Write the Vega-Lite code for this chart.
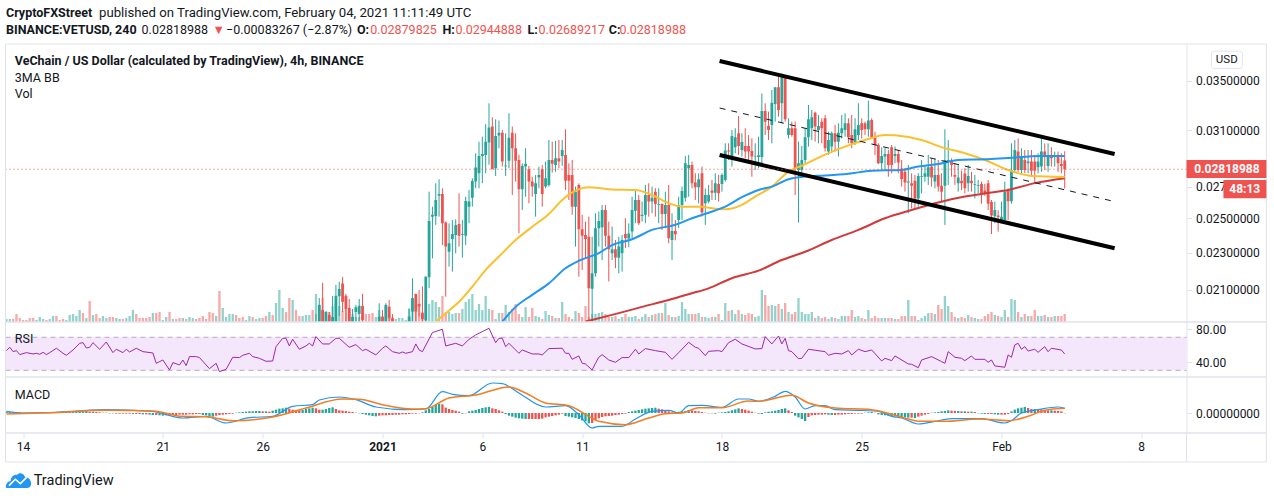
{"$schema":"https://vega.github.io/schema/vega-lite/v6.json","padding":{"left":2.5,"top":0,"right":0,"bottom":0},"bounds":"flush","spacing":0,"background":"white",
"config":{"font":"Roboto","view":{"stroke":null},"axis":{"grid":false,"title":null,"domainColor":"#e0e3eb","tickColor":"#e0e3eb","tickSize":5,"labelColor":"#131722","labelFontSize":12,"labelPadding":4},"text":{"color":"#131722","align":"left","fontSize":12.5}},
"datasets":{"single":[{"row":1}],
"bars":[
{"n":-5,"dir":"u","vol":3,"hist":0.00004},{"n":-4,"dir":"u","vol":3,"hist":0.00003},{"n":-3,"dir":"d","vol":3,"hist":0.00003},{"n":-2,"dir":"d","vol":8,"hist":0.00002},{"n":-1,"dir":"d","vol":4,"hist":0.00002},{"n":0,"dir":"d","vol":2,"hist":0.00001},{"n":1,"dir":"d","vol":2,"hist":0.00001},{"n":2,"dir":"d","vol":4,"hist":0.00001},{"n":3,"dir":"d","vol":4,"hist":0.00001},{"n":4,"dir":"u","vol":2,"hist":0.00001},{"n":5,"dir":"u","vol":5,"hist":0.00001},{"n":6,"dir":"u","vol":3,"hist":0.00001},{"n":7,"dir":"d","vol":2,"hist":0.00002},{"n":8,"dir":"u","vol":3,"hist":0.00002},{"n":9,"dir":"u","vol":6,"hist":0.00002},{"n":10,"dir":"d","vol":6,"hist":0.00002},{"n":11,"dir":"d","vol":2,"hist":0.00003},{"n":12,"dir":"d","vol":3,"hist":0.00003},{"n":13,"dir":"u","vol":2,"hist":0.00003},{"n":14,"dir":"u","vol":7,"hist":0.00003},{"n":15,"dir":"u","vol":8,"hist":0.00004},{"n":16,"dir":"u","vol":6,"hist":0.00004},{"n":17,"dir":"u","vol":12,"hist":0.00005},{"n":18,"dir":"d","vol":9,"hist":0.00005},{"n":19,"dir":"u","vol":4,"hist":0.00006},{"n":20,"dir":"d","vol":21,"hist":0.00004},{"n":21,"dir":"u","vol":7,"hist":0.00004},{"n":22,"dir":"d","vol":8,"hist":0.00003},{"n":23,"dir":"d","vol":4,"hist":0.00002},{"n":24,"dir":"u","vol":6,"hist":0.00001},{"n":25,"dir":"u","vol":4,"hist":0.00001},{"n":26,"dir":"d","vol":5,"hist":-0.00001},{"n":27,"dir":"d","vol":5,"hist":-0.00001},{"n":28,"dir":"u","vol":4,"hist":-0.00002},{"n":29,"dir":"u","vol":3,"hist":-0.00002},{"n":30,"dir":"d","vol":3,"hist":-0.00002},{"n":31,"dir":"u","vol":4,"hist":-0.00002},{"n":32,"dir":"u","vol":6,"hist":-0.00002},{"n":33,"dir":"u","vol":12,"hist":-0.00003},{"n":34,"dir":"d","vol":8,"hist":-0.00003},{"n":35,"dir":"d","vol":4,"hist":-0.00003},{"n":36,"dir":"d","vol":4,"hist":-0.00004},{"n":37,"dir":"d","vol":4,"hist":-0.00004},{"n":38,"dir":"d","vol":5,"hist":-0.00005},{"n":39,"dir":"u","vol":9,"hist":-0.00006},{"n":40,"dir":"d","vol":9,"hist":-0.00006},{"n":41,"dir":"d","vol":10,"hist":-0.00007},{"n":42,"dir":"u","vol":2,"hist":-0.00008},{"n":43,"dir":"u","vol":5,"hist":-0.00007},{"n":44,"dir":"d","vol":10,"hist":-0.00007},{"n":45,"dir":"u","vol":3,"hist":-0.00006},{"n":46,"dir":"d","vol":3,"hist":-0.00006},{"n":47,"dir":"d","vol":4,"hist":-0.00005},{"n":48,"dir":"u","vol":4,"hist":-0.00005},{"n":49,"dir":"d","vol":3,"hist":-0.00005},{"n":50,"dir":"u","vol":5,"hist":-0.00004},{"n":51,"dir":"u","vol":4,"hist":-0.00004},{"n":52,"dir":"d","vol":3,"hist":-0.00003},{"n":53,"dir":"d","vol":4,"hist":-0.00003},{"n":54,"dir":"d","vol":6,"hist":-0.00006},{"n":55,"dir":"d","vol":3,"hist":-0.00007},{"n":56,"dir":"d","vol":10,"hist":-0.00009},{"n":57,"dir":"d","vol":9,"hist":-0.00011},{"n":58,"dir":"u","vol":6,"hist":-0.00008},{"n":59,"dir":"d","vol":31,"hist":-0.00006},{"n":60,"dir":"u","vol":14,"hist":-0.00005},{"n":61,"dir":"u","vol":5,"hist":-0.00004},{"n":62,"dir":"u","vol":8,"hist":-0.00003},{"n":63,"dir":"u","vol":8,"hist":-0.00002},{"n":64,"dir":"d","vol":7,"hist":0.00001},{"n":65,"dir":"d","vol":4,"hist":0.00002},{"n":66,"dir":"d","vol":5,"hist":0.00003},{"n":67,"dir":"u","vol":2,"hist":0.00004},{"n":68,"dir":"u","vol":6,"hist":0.00005},{"n":69,"dir":"d","vol":5,"hist":0.00005},{"n":70,"dir":"u","vol":3,"hist":0.00006},{"n":71,"dir":"u","vol":4,"hist":0.00006},{"n":72,"dir":"d","vol":4,"hist":0.00005},{"n":73,"dir":"d","vol":6,"hist":0.00005},{"n":74,"dir":"u","vol":10,"hist":0.00004},{"n":75,"dir":"d","vol":7,"hist":0.00007},{"n":76,"dir":"u","vol":19,"hist":0.0001},{"n":77,"dir":"u","vol":32,"hist":0.00013},{"n":78,"dir":"u","vol":14,"hist":0.00014},{"n":79,"dir":"d","vol":10,"hist":0.00016},{"n":80,"dir":"d","vol":24,"hist":0.00013},{"n":81,"dir":"u","vol":22,"hist":0.0001},{"n":82,"dir":"d","vol":12,"hist":0.00009},{"n":83,"dir":"d","vol":6,"hist":0.00008},{"n":84,"dir":"u","vol":6,"hist":0.00009},{"n":85,"dir":"u","vol":7,"hist":0.00012},{"n":86,"dir":"u","vol":7,"hist":0.00014},{"n":87,"dir":"d","vol":12,"hist":0.00016},
{"n":88,"dir":"u","vol":28,"hist":0.00014,"o":0.0192,"h":0.0198,"l":0.019,"c":0.0194},{"n":89,"dir":"u","vol":16,"hist":0.0001,"o":0.0192,"h":0.02059,"l":0.019,"c":0.02025},{"n":90,"dir":"d","vol":24,"hist":0.0001,"o":0.02,"h":0.02137,"l":0.019,"c":0.0192},{"n":91,"dir":"u","vol":11,"hist":0.00012,"o":0.0192,"h":0.0199,"l":0.019,"c":0.0199},{"n":92,"dir":"d","vol":10,"hist":0.00015,"o":0.01976,"h":0.0199,"l":0.019,"c":0.0192},{"n":93,"dir":"u","vol":16,"hist":0.00017,"o":0.0192,"h":0.0207,"l":0.019,"c":0.01966},{"n":94,"dir":"u","vol":20,"hist":0.00012,"o":0.0192,"h":0.02126,"l":0.019,"c":0.0207},{"n":95,"dir":"u","vol":16,"hist":0.00008,"o":0.02068,"h":0.02142,"l":0.0197,"c":0.02105},{"n":96,"dir":"d","vol":11,"hist":0.00007,"o":0.02133,"h":0.02168,"l":0.0199,"c":0.0204},{"n":97,"dir":"d","vol":13,"hist":0.00006,"o":0.0207,"h":0.0208,"l":0.019,"c":0.02005},{"n":98,"dir":"d","vol":14,"hist":0.00004,"o":0.0201,"h":0.02054,"l":0.019,"c":0.0192},{"n":99,"dir":"u","vol":8,"hist":0.00003,"o":0.0192,"h":0.02005,"l":0.019,"c":0.01966},{"n":100,"dir":"u","vol":5,"hist":0.00001,"o":0.0199,"h":0.02025,"l":0.019,"c":0.02013},{"n":101,"dir":"u","vol":5,"hist":-0.00001,"o":0.0198,"h":0.02054,"l":0.019,"c":0.0202},
{"n":102,"dir":"d","vol":5,"hist":-0.00003,"o":0.0202,"h":0.0208,"l":0.01944,"c":0.01952},{"n":103,"dir":"d","vol":8,"hist":-0.00005},{"n":104,"dir":"d","vol":8,"hist":-0.00007},{"n":105,"dir":"d","vol":9,"hist":-0.00009},{"n":106,"dir":"u","vol":5,"hist":-0.0001},
{"n":107,"dir":"u","vol":12,"hist":-0.00008,"o":0.0194,"h":0.02033,"l":0.0192,"c":0.01968},{"n":108,"dir":"d","vol":5,"hist":-0.00007,"o":0.01968,"h":0.02,"l":0.0192,"c":0.0194},{"n":109,"dir":"u","vol":15,"hist":-0.00007,"o":0.0194,"h":0.02033,"l":0.0192,"c":0.02025},{"n":110,"dir":"d","vol":10,"hist":-0.00006,"o":0.02016,"h":0.02049,"l":0.0194,"c":0.0196},{"n":111,"dir":"d","vol":5,"hist":-0.00006,"o":0.0196,"h":0.0198,"l":0.0192,"c":0.0194},
{"n":112,"dir":"u","vol":3,"hist":-0.00005},{"n":113,"dir":"u","vol":4,"hist":-0.00005},{"n":114,"dir":"u","vol":4,"hist":-0.00004},{"n":115,"dir":"u","vol":2,"hist":-0.00004},
{"n":116,"dir":"u","vol":13,"hist":-0.00003,"o":0.0194,"h":0.02008,"l":0.0192,"c":0.01968},{"n":117,"dir":"u","vol":24,"hist":-0.00002,"o":0.01992,"h":0.0216,"l":0.0192,"c":0.02058},{"n":118,"dir":"d","vol":18,"hist":-0.00002,"o":0.0208,"h":0.0208,"l":0.0192,"c":0.01992},{"n":119,"dir":"d","vol":15,"hist":-0.00001,"o":0.0203,"h":0.021,"l":0.01968,"c":0.02016},{"n":120,"dir":"d","vol":8,"hist":0.00002,"o":0.01987,"h":0.02118,"l":0.0192,"c":0.01955},{"n":121,"dir":"u","vol":22,"hist":0.00008,"o":0.0195,"h":0.0217,"l":0.0192,"c":0.02169},{"n":122,"dir":"u","vol":18,"hist":0.00012,"o":0.02166,"h":0.02669,"l":0.02109,"c":0.02485},{"n":123,"dir":"u","vol":22,"hist":0.00018,"o":0.02511,"h":0.02573,"l":0.02268,"c":0.02522},{"n":124,"dir":"u","vol":20,"hist":0.00024,"o":0.02515,"h":0.02724,"l":0.02461,"c":0.02615},{"n":125,"dir":"u","vol":15,"hist":0.00028,"o":0.02643,"h":0.0275,"l":0.02511,"c":0.02654},{"n":126,"dir":"d","vol":26,"hist":0.00026,"o":0.02654,"h":0.02691,"l":0.02343,"c":0.02471},{"n":127,"dir":"d","vol":10,"hist":0.00016,"o":0.02475,"h":0.02482,"l":0.02066,"c":0.02334},{"n":128,"dir":"u","vol":10,"hist":0.00012,"o":0.02305,"h":0.0247,"l":0.02223,"c":0.02353},{"n":129,"dir":"u","vol":8,"hist":0.00009,"o":0.02378,"h":0.02491,"l":0.02196,"c":0.02407},{"n":130,"dir":"u","vol":9,"hist":0.00007,"o":0.02401,"h":0.02495,"l":0.02296,"c":0.02461},{"n":131,"dir":"d","vol":9,"hist":0.00004,"o":0.02467,"h":0.02658,"l":0.02334,"c":0.02397},{"n":132,"dir":"u","vol":13,"hist":-0.00002,"o":0.02401,"h":0.02491,"l":0.02272,"c":0.02405},{"n":133,"dir":"u","vol":20,"hist":-0.00001,"o":0.02397,"h":0.02636,"l":0.02343,"c":0.02609},{"n":134,"dir":"u","vol":23,"hist":0.00005,"o":0.02573,"h":0.0268,"l":0.02471,"c":0.02605},{"n":135,"dir":"u","vol":28,"hist":0.00007,"o":0.0263,"h":0.02757,"l":0.02573,"c":0.02739},{"n":136,"dir":"u","vol":12,"hist":0.00009,"o":0.02735,"h":0.02931,"l":0.02691,"c":0.0283},{"n":137,"dir":"u","vol":18,"hist":0.00012,"o":0.02791,"h":0.03015,"l":0.02691,"c":0.02912},{"n":138,"dir":"u","vol":12,"hist":0.00015,"o":0.02912,"h":0.03052,"l":0.02724,"c":0.02926},{"n":139,"dir":"u","vol":26,"hist":0.00017,"o":0.02919,"h":0.03146,"l":0.02791,"c":0.03015},{"n":140,"dir":"u","vol":13,"hist":0.00018,"o":0.03009,"h":0.03311,"l":0.0285,"c":0.03121},{"n":141,"dir":"d","vol":12,"hist":0.00014,"o":0.03128,"h":0.032,"l":0.02819,"c":0.02819},{"n":142,"dir":"u","vol":3,"hist":0.00012,"o":0.02826,"h":0.03184,"l":0.02773,"c":0.03057},{"n":143,"dir":"u","vol":9,"hist":0.00008,"o":0.0306,"h":0.03174,"l":0.02967,"c":0.03082},{"n":144,"dir":"d","vol":9,"hist":0.00004,"o":0.03082,"h":0.03102,"l":0.02837,"c":0.02872},{"n":145,"dir":"u","vol":17,"hist":-0.00003,"o":0.02839,"h":0.03077,"l":0.02773,"c":0.02844},{"n":146,"dir":"u","vol":10,"hist":-0.00008,"o":0.02878,"h":0.03231,"l":0.02826,"c":0.03044},{"n":147,"dir":"d","vol":13,"hist":-0.00011,"o":0.03082,"h":0.03128,"l":0.02647,"c":0.02967},{"n":148,"dir":"d","vol":18,"hist":-0.00014,"o":0.02967,"h":0.03077,"l":0.02735,"c":0.02878},{"n":149,"dir":"d","vol":8,"hist":-0.00016,"o":0.02883,"h":0.0292,"l":0.02411,"c":0.02684},{"n":150,"dir":"u","vol":5,"hist":-0.00017,"o":0.02684,"h":0.0286,"l":0.02552,"c":0.02842},{"n":151,"dir":"u","vol":15,"hist":-0.00018,"o":0.02837,"h":0.02967,"l":0.02636,"c":0.02856},{"n":152,"dir":"d","vol":5,"hist":-0.00018,"o":0.02819,"h":0.02842,"l":0.02594,"c":0.02735},{"n":153,"dir":"d","vol":14,"hist":-0.00018,"o":0.02735,"h":0.02768,"l":0.02636,"c":0.02702},{"n":154,"dir":"u","vol":6,"hist":-0.00018,"o":0.02654,"h":0.02779,"l":0.02511,"c":0.02724},{"n":155,"dir":"u","vol":5,"hist":-0.00018,"o":0.02762,"h":0.02837,"l":0.02691,"c":0.02779},{"n":156,"dir":"d","vol":3,"hist":-0.00017,"o":0.02819,"h":0.02848,"l":0.02573,"c":0.02654},{"n":157,"dir":"u","vol":11,"hist":-0.00013,"o":0.02702,"h":0.02872,"l":0.02691,"c":0.02757},{"n":158,"dir":"u","vol":7,"hist":-0.00011,"o":0.02713,"h":0.03027,"l":0.02702,"c":0.02883},{"n":159,"dir":"d","vol":6,"hist":-0.00009,"o":0.02883,"h":0.03015,"l":0.02796,"c":0.02856},{"n":160,"dir":"u","vol":4,"hist":-0.00007,"o":0.02848,"h":0.03021,"l":0.02802,"c":0.02895},{"n":161,"dir":"d","vol":4,"hist":-0.00005,"o":0.02895,"h":0.03027,"l":0.02826,"c":0.02872},{"n":162,"dir":"u","vol":20,"hist":-0.00002,"o":0.02912,"h":0.03027,"l":0.02842,"c":0.02955},{"n":163,"dir":"d","vol":8,"hist":-0.00009,"o":0.02919,"h":0.03107,"l":0.0268,"c":0.02741},{"n":164,"dir":"d","vol":5,"hist":-0.00011,"o":0.02779,"h":0.0286,"l":0.02615,"c":0.02741},{"n":165,"dir":"d","vol":3,"hist":-0.00013,"o":0.02779,"h":0.02883,"l":0.02522,"c":0.02573},{"n":166,"dir":"u","vol":11,"hist":-0.00015,"o":0.02573,"h":0.02702,"l":0.02334,"c":0.02669},{"n":167,"dir":"d","vol":9,"hist":-0.00018,"o":0.02713,"h":0.02724,"l":0.02169,"c":0.02435},{"n":168,"dir":"d","vol":5,"hist":-0.00022,"o":0.02435,"h":0.02522,"l":0.02205,"c":0.02397},{"n":169,"dir":"d","vol":16,"hist":-0.00025,"o":0.02401,"h":0.02481,"l":0.02268,"c":0.02378},{"n":170,"dir":"d","vol":5,"hist":-0.00031,"o":0.02391,"h":0.02511,"l":0.0192,"c":0.02109},{"n":171,"dir":"u","vol":8,"hist":-0.0003,"o":0.02106,"h":0.02391,"l":0.0192,"c":0.02187},{"n":172,"dir":"u","vol":8,"hist":-0.00022,"o":0.02187,"h":0.02532,"l":0.02169,"c":0.02441},{"n":173,"dir":"u","vol":9,"hist":-0.00016,"o":0.02441,"h":0.02542,"l":0.02334,"c":0.02485},{"n":174,"dir":"u","vol":10,"hist":-0.00012,"o":0.02447,"h":0.02583,"l":0.02259,"c":0.02552},{"n":175,"dir":"d","vol":8,"hist":-0.0001,"o":0.02552,"h":0.02583,"l":0.02334,"c":0.02397},{"n":176,"dir":"d","vol":5,"hist":-0.00009,"o":0.02397,"h":0.02481,"l":0.02144,"c":0.02319},{"n":177,"dir":"u","vol":5,"hist":-0.00008,"o":0.02296,"h":0.02451,"l":0.02259,"c":0.02319},{"n":178,"dir":"d","vol":6,"hist":-0.00006,"o":0.02319,"h":0.02372,"l":0.02214,"c":0.02272},{"n":179,"dir":"u","vol":3,"hist":-0.00005,"o":0.02272,"h":0.02391,"l":0.02187,"c":0.02334},{"n":180,"dir":"u","vol":5,"hist":-0.00003,"o":0.02296,"h":0.02401,"l":0.02196,"c":0.02372},{"n":181,"dir":"d","vol":8,"hist":-0.00002,"o":0.02407,"h":0.02501,"l":0.02325,"c":0.02382},{"n":182,"dir":"u","vol":5,"hist":0.00003,"o":0.0238,"h":0.0247,"l":0.0233,"c":0.0241},{"n":183,"dir":"u","vol":5,"hist":0.00005,"o":0.02421,"h":0.02636,"l":0.02382,"c":0.02552},{"n":184,"dir":"u","vol":6,"hist":0.00007,"o":0.02548,"h":0.0268,"l":0.02471,"c":0.02615},{"n":185,"dir":"d","vol":3,"hist":0.00009,"o":0.02615,"h":0.02647,"l":0.02461,"c":0.02471},{"n":186,"dir":"u","vol":5,"hist":0.00011,"o":0.02515,"h":0.02605,"l":0.02481,"c":0.02522},{"n":187,"dir":"u","vol":8,"hist":0.00013,"o":0.02522,"h":0.02713,"l":0.02471,"c":0.02647},{"n":188,"dir":"d","vol":5,"hist":0.00014,"o":0.02647,"h":0.02724,"l":0.02511,"c":0.02605},{"n":189,"dir":"u","vol":7,"hist":0.00015,"o":0.02605,"h":0.02702,"l":0.02532,"c":0.0263},{"n":190,"dir":"d","vol":8,"hist":0.00016,"o":0.02669,"h":0.02691,"l":0.02511,"c":0.02589},{"n":191,"dir":"u","vol":9,"hist":0.00013,"o":0.02585,"h":0.02691,"l":0.02471,"c":0.0259},{"n":192,"dir":"d","vol":9,"hist":0.00011,"o":0.02589,"h":0.02594,"l":0.02431,"c":0.02528},{"n":193,"dir":"u","vol":19,"hist":0.00008,"o":0.02528,"h":0.02669,"l":0.02441,"c":0.02583},{"n":194,"dir":"d","vol":7,"hist":0.00005,"o":0.02583,"h":0.02713,"l":0.02353,"c":0.02382},{"n":195,"dir":"u","vol":5,"hist":0.00002,"o":0.02372,"h":0.02532,"l":0.02259,"c":0.02425},{"n":196,"dir":"d","vol":5,"hist":0.00003,"o":0.02425,"h":0.0249,"l":0.0237,"c":0.02405},{"n":197,"dir":"u","vol":6,"hist":0.00004,"o":0.02491,"h":0.02636,"l":0.02441,"c":0.02583},{"n":198,"dir":"u","vol":20,"hist":0.00005,"o":0.02583,"h":0.02702,"l":0.02491,"c":0.02673},{"n":199,"dir":"u","vol":13,"hist":0.00006,"o":0.0263,"h":0.02912,"l":0.02605,"c":0.0286},{"n":200,"dir":"u","vol":8,"hist":0.00009,"o":0.02826,"h":0.02919,"l":0.02636,"c":0.02848},{"n":201,"dir":"d","vol":8,"hist":0.00008,"o":0.02848,"h":0.02872,"l":0.02691,"c":0.02724},{"n":202,"dir":"d","vol":8,"hist":0.00006,"o":0.02729,"h":0.02791,"l":0.02615,"c":0.02698},{"n":203,"dir":"u","vol":9,"hist":0.00005,"o":0.02698,"h":0.02791,"l":0.02594,"c":0.02751},{"n":204,"dir":"d","vol":5,"hist":0.00003,"o":0.02791,"h":0.02837,"l":0.02511,"c":0.02536},{"n":205,"dir":"u","vol":5,"hist":0.00001,"o":0.02594,"h":0.0269,"l":0.02461,"c":0.02647},{"n":206,"dir":"u","vol":4,"hist":-0.00001,"o":0.02605,"h":0.02713,"l":0.02594,"c":0.02647},
{"n":207,"dir":"d","vol":5,"hist":-0.00001,"o":0.02676,"h":0.02746,"l":0.02615,"c":0.02662},{"n":208,"dir":"u","vol":5,"hist":-0.00002,"o":0.02662,"h":0.02791,"l":0.02615,"c":0.02724},{"n":209,"dir":"d","vol":8,"hist":0.00001,"o":0.0272,"h":0.0278,"l":0.02605,"c":0.02658},{"n":210,"dir":"u","vol":2,"hist":0.00002,"o":0.0272,"h":0.02791,"l":0.02669,"c":0.0278},{"n":211,"dir":"u","vol":19,"hist":0.00003,"o":0.02746,"h":0.03003,"l":0.02735,"c":0.0295},{"n":212,"dir":"d","vol":11,"hist":0.00005,"o":0.0295,"h":0.03003,"l":0.02883,"c":0.02943},{"n":213,"dir":"u","vol":12,"hist":0.00008,"o":0.02895,"h":0.03102,"l":0.02837,"c":0.03057},{"n":214,"dir":"u","vol":8,"hist":0.00011,"o":0.02974,"h":0.03115,"l":0.02931,"c":0.03047},{"n":215,"dir":"d","vol":12,"hist":0.00014,"o":0.03077,"h":0.0321,"l":0.02919,"c":0.02984},{"n":216,"dir":"u","vol":8,"hist":0.00012,"o":0.02955,"h":0.03077,"l":0.02907,"c":0.03012},{"n":217,"dir":"d","vol":7,"hist":0.0001,"o":0.02984,"h":0.03115,"l":0.02895,"c":0.02943},{"n":218,"dir":"d","vol":9,"hist":0.00007,"o":0.02984,"h":0.03064,"l":0.0286,"c":0.02943},{"n":219,"dir":"d","vol":8,"hist":0.00004,"o":0.02948,"h":0.03039,"l":0.02768,"c":0.02907},{"n":220,"dir":"u","vol":5,"hist":0.00001,"o":0.02905,"h":0.03003,"l":0.02814,"c":0.02907},{"n":221,"dir":"u","vol":6,"hist":-0.00002,"o":0.02905,"h":0.03052,"l":0.02826,"c":0.02917},{"n":222,"dir":"u","vol":32,"hist":-0.00003,"o":0.02905,"h":0.03392,"l":0.0286,"c":0.03249},{"n":223,"dir":"d","vol":27,"hist":0.00002,"o":0.03249,"h":0.03311,"l":0.03064,"c":0.03166},{"n":224,"dir":"d","vol":16,"hist":0.00004,"o":0.03135,"h":0.03244,"l":0.03027,"c":0.03102},{"n":225,"dir":"u","vol":17,"hist":0.00005,"o":0.03141,"h":0.0342,"l":0.03003,"c":0.03316},{"n":226,"dir":"u","vol":16,"hist":0.00007,"o":0.03305,"h":0.03443,"l":0.03166,"c":0.03443},{"n":227,"dir":"d","vol":18,"hist":0.00009,"o":0.03443,"h":0.03539,"l":0.03205,"c":0.03257},{"n":228,"dir":"u","vol":13,"hist":0.00012,"o":0.03311,"h":0.03561,"l":0.03153,"c":0.03539},{"n":229,"dir":"d","vol":19,"hist":0.00014,"o":0.03525,"h":0.03539,"l":0.03166,"c":0.03184},{"n":230,"dir":"u","vol":10,"hist":0.00008,"o":0.03064,"h":0.03192,"l":0.03039,"c":0.03115},{"n":231,"dir":"d","vol":8,"hist":0.00003,"o":0.03115,"h":0.03166,"l":0.03052,"c":0.03064},{"n":232,"dir":"d","vol":10,"hist":-0.00008,"o":0.03115,"h":0.03166,"l":0.02647,"c":0.02826},{"n":233,"dir":"u","vol":24,"hist":-0.00013,"o":0.02814,"h":0.03015,"l":0.02475,"c":0.0286},{"n":234,"dir":"u","vol":10,"hist":-0.00018,"o":0.02814,"h":0.02984,"l":0.0278,"c":0.02883},{"n":235,"dir":"u","vol":8,"hist":-0.00024,"o":0.02883,"h":0.03115,"l":0.0286,"c":0.03047},{"n":236,"dir":"u","vol":8,"hist":-0.00012,"o":0.03047,"h":0.03298,"l":0.02979,"c":0.03184},{"n":237,"dir":"u","vol":10,"hist":-0.00007,"o":0.03115,"h":0.03257,"l":0.03027,"c":0.032},{"n":238,"dir":"d","vol":4,"hist":-0.00006,"o":0.03236,"h":0.03244,"l":0.03015,"c":0.03128},{"n":239,"dir":"u","vol":6,"hist":-0.00005,"o":0.03102,"h":0.03218,"l":0.03003,"c":0.03133},{"n":240,"dir":"d","vol":4,"hist":-0.00005,"o":0.03166,"h":0.03192,"l":0.03003,"c":0.03115},{"n":241,"dir":"d","vol":5,"hist":-0.00004,"o":0.03192,"h":0.03218,"l":0.02943,"c":0.02967},{"n":242,"dir":"u","vol":3,"hist":-0.00005,"o":0.02943,"h":0.0309,"l":0.02919,"c":0.03027},{"n":243,"dir":"u","vol":5,"hist":-0.00006,"o":0.02979,"h":0.0309,"l":0.02943,"c":0.03077},{"n":244,"dir":"d","vol":4,"hist":-0.00006,"o":0.03077,"h":0.03141,"l":0.02943,"c":0.03015},{"n":245,"dir":"u","vol":3,"hist":-0.00005,"o":0.03015,"h":0.03153,"l":0.02907,"c":0.03082},{"n":246,"dir":"u","vol":6,"hist":-0.00005,"o":0.03077,"h":0.03218,"l":0.03039,"c":0.03115},{"n":247,"dir":"u","vol":6,"hist":-0.00004,"o":0.03102,"h":0.03231,"l":0.03052,"c":0.03153},{"n":248,"dir":"d","vol":6,"hist":-0.00003,"o":0.03153,"h":0.03192,"l":0.03003,"c":0.03047},{"n":249,"dir":"d","vol":12,"hist":-0.00003,"o":0.03064,"h":0.03218,"l":0.02967,"c":0.03003},{"n":250,"dir":"u","vol":5,"hist":-0.00002,"o":0.03003,"h":0.03192,"l":0.02991,"c":0.03107},{"n":251,"dir":"u","vol":6,"hist":-0.00002,"o":0.03064,"h":0.03311,"l":0.03027,"c":0.03141},{"n":252,"dir":"d","vol":4,"hist":-0.00002,"o":0.03153,"h":0.03192,"l":0.03039,"c":0.03102},{"n":253,"dir":"d","vol":3,"hist":0.00001,"o":0.03153,"h":0.03166,"l":0.03064,"c":0.03107},{"n":254,"dir":"u","vol":12,"hist":0.00002,"o":0.03107,"h":0.03332,"l":0.03052,"c":0.03174},{"n":255,"dir":"d","vol":4,"hist":0.00003,"o":0.03179,"h":0.03192,"l":0.03039,"c":0.03039},{"n":256,"dir":"d","vol":6,"hist":0.00001,"o":0.03047,"h":0.0309,"l":0.02919,"c":0.02991},{"n":257,"dir":"d","vol":4,"hist":-0.00004,"o":0.02991,"h":0.03003,"l":0.02855,"c":0.0286},{"n":258,"dir":"u","vol":4,"hist":-0.00006,"o":0.0286,"h":0.02974,"l":0.02814,"c":0.02912},{"n":259,"dir":"u","vol":4,"hist":-0.00007,"o":0.02907,"h":0.0297,"l":0.02814,"c":0.02926},{"n":260,"dir":"d","vol":4,"hist":-0.00008,"o":0.02926,"h":0.02955,"l":0.02768,"c":0.02848},{"n":261,"dir":"d","vol":4,"hist":-0.00009,"o":0.02974,"h":0.02991,"l":0.02791,"c":0.02848},{"n":262,"dir":"u","vol":3,"hist":-0.0001,"o":0.02912,"h":0.02979,"l":0.0286,"c":0.02926},{"n":263,"dir":"d","vol":3,"hist":-0.00011,"o":0.02926,"h":0.02955,"l":0.02791,"c":0.02865},{"n":264,"dir":"d","vol":6,"hist":-0.00012,"o":0.02824,"h":0.02883,"l":0.02702,"c":0.02752},{"n":265,"dir":"d","vol":6,"hist":-0.00013,"o":0.02801,"h":0.02826,"l":0.02669,"c":0.02729},{"n":266,"dir":"u","vol":22,"hist":-0.00014,"o":0.02729,"h":0.02848,"l":0.02532,"c":0.02735},{"n":267,"dir":"d","vol":6,"hist":-0.00014,"o":0.02724,"h":0.02791,"l":0.02562,"c":0.02707},{"n":268,"dir":"d","vol":6,"hist":-0.00015,"o":0.02741,"h":0.0278,"l":0.02562,"c":0.02625},{"n":269,"dir":"u","vol":2,"hist":-0.00011,"o":0.02625,"h":0.02791,"l":0.02573,"c":0.02773},{"n":270,"dir":"u","vol":4,"hist":-0.00008,"o":0.02768,"h":0.02883,"l":0.02658,"c":0.02773},{"n":271,"dir":"u","vol":6,"hist":-0.00005,"o":0.02768,"h":0.02848,"l":0.02735,"c":0.02791},{"n":272,"dir":"u","vol":9,"hist":-0.00003,"o":0.02768,"h":0.02919,"l":0.02713,"c":0.02832},{"n":273,"dir":"d","vol":9,"hist":0.00001,"o":0.02837,"h":0.02895,"l":0.02702,"c":0.02762},{"n":274,"dir":"u","vol":8,"hist":0.00002,"o":0.02735,"h":0.02895,"l":0.02691,"c":0.0278},{"n":275,"dir":"d","vol":17,"hist":0.00003,"o":0.0278,"h":0.02883,"l":0.02669,"c":0.02702},{"n":276,"dir":"d","vol":13,"hist":0.00005,"o":0.02707,"h":0.02791,"l":0.02605,"c":0.02669},{"n":277,"dir":"u","vol":26,"hist":0.00006,"o":0.02707,"h":0.03107,"l":0.02461,"c":0.02883},{"n":278,"dir":"u","vol":16,"hist":0.00008,"o":0.02872,"h":0.03027,"l":0.02713,"c":0.02883},{"n":279,"dir":"d","vol":10,"hist":0.00007,"o":0.02872,"h":0.02895,"l":0.02768,"c":0.02848},{"n":280,"dir":"d","vol":5,"hist":0.00006,"o":0.0278,"h":0.0286,"l":0.02713,"c":0.02768},{"n":281,"dir":"u","vol":4,"hist":0.00006,"o":0.02724,"h":0.02848,"l":0.02669,"c":0.02762},{"n":282,"dir":"d","vol":5,"hist":0.00005,"o":0.02741,"h":0.0281,"l":0.0268,"c":0.02724},{"n":283,"dir":"d","vol":4,"hist":0.00005,"o":0.02789,"h":0.02826,"l":0.02658,"c":0.02691},{"n":284,"dir":"u","vol":7,"hist":0.00004,"o":0.02724,"h":0.02848,"l":0.02669,"c":0.02773},{"n":285,"dir":"d","vol":5,"hist":0.00004,"o":0.02741,"h":0.02801,"l":0.02669,"c":0.02724},{"n":286,"dir":"u","vol":4,"hist":0.00003,"o":0.02713,"h":0.0278,"l":0.02625,"c":0.02718},{"n":287,"dir":"u","vol":3,"hist":-0.00001,"o":0.02707,"h":0.02746,"l":0.02658,"c":0.02713},{"n":288,"dir":"d","vol":3,"hist":-0.00002,"o":0.02719,"h":0.02735,"l":0.02592,"c":0.02658},{"n":289,"dir":"d","vol":6,"hist":-0.00003,"o":0.02676,"h":0.0272,"l":0.02642,"c":0.02653},{"n":290,"dir":"d","vol":8,"hist":-0.00003,"o":0.02724,"h":0.02746,"l":0.02552,"c":0.02592},{"n":291,"dir":"d","vol":10,"hist":-0.00003,"o":0.02602,"h":0.02615,"l":0.02407,"c":0.02518},{"n":292,"dir":"u","vol":7,"hist":-0.00004,"o":0.02514,"h":0.02605,"l":0.02471,"c":0.02552},{"n":293,"dir":"d","vol":6,"hist":-0.00005,"o":0.02518,"h":0.0255,"l":0.02421,"c":0.02507},{"n":294,"dir":"u","vol":5,"hist":-0.00005,"o":0.02491,"h":0.02605,"l":0.02471,"c":0.02511},{"n":295,"dir":"u","vol":12,"hist":-0.00005,"o":0.02491,"h":0.02735,"l":0.02491,"c":0.02669},{"n":296,"dir":"d","vol":5,"hist":-0.00003,"o":0.02678,"h":0.02691,"l":0.02491,"c":0.02607},{"n":297,"dir":"u","vol":23,"hist":0.00005,"o":0.02607,"h":0.03003,"l":0.02592,"c":0.02814},{"n":298,"dir":"u","vol":22,"hist":0.0001,"o":0.02814,"h":0.03027,"l":0.02801,"c":0.02955},{"n":299,"dir":"d","vol":10,"hist":0.00014,"o":0.02943,"h":0.03039,"l":0.02801,"c":0.02814},{"n":300,"dir":"u","vol":5,"hist":0.00016,"o":0.02814,"h":0.02967,"l":0.02791,"c":0.02907},{"n":301,"dir":"d","vol":8,"hist":0.00018,"o":0.02883,"h":0.02955,"l":0.02791,"c":0.02814},{"n":302,"dir":"u","vol":6,"hist":0.00015,"o":0.0286,"h":0.02955,"l":0.02791,"c":0.02872},{"n":303,"dir":"d","vol":6,"hist":0.00012,"o":0.02872,"h":0.02955,"l":0.0278,"c":0.02809},{"n":304,"dir":"d","vol":12,"hist":0.00012,"o":0.02872,"h":0.02919,"l":0.02724,"c":0.02809},{"n":305,"dir":"u","vol":6,"hist":0.00011,"o":0.02832,"h":0.0293,"l":0.02791,"c":0.02872},{"n":306,"dir":"u","vol":6,"hist":0.0001,"o":0.02837,"h":0.03039,"l":0.02801,"c":0.02943},{"n":307,"dir":"d","vol":7,"hist":0.00009,"o":0.02943,"h":0.03003,"l":0.02814,"c":0.02905},{"n":308,"dir":"u","vol":5,"hist":0.00008,"o":0.02841,"h":0.03003,"l":0.02801,"c":0.02907},{"n":309,"dir":"d","vol":5,"hist":0.00008,"o":0.02907,"h":0.02974,"l":0.02837,"c":0.02895},{"n":310,"dir":"u","vol":6,"hist":0.00007,"o":0.02905,"h":0.02943,"l":0.02837,"c":0.0291},{"n":311,"dir":"d","vol":6,"hist":0.00006,"o":0.02907,"h":0.02943,"l":0.02801,"c":0.0286},{"n":312,"dir":"d","vol":6,"hist":0.00005,"o":0.02855,"h":0.02931,"l":0.02791,"c":0.02841},{"n":313,"dir":"d","vol":8,"hist":-0.00001,"o":0.0288,"h":0.02945,"l":0.02689,"c":0.02819}
],
"rsi":[{"n":-5,"rsi":53.8},{"n":-4,"rsi":57.9},{"n":-3,"rsi":52.6},{"n":-2,"rsi":53.8},{"n":-1,"rsi":49},{"n":1,"rsi":51.4},{"n":3,"rsi":49.8},{"n":4,"rsi":50.6},{"n":5,"rsi":49.4},{"n":6,"rsi":51.8},{"n":7,"rsi":49},{"n":8,"rsi":51.4},{"n":10,"rsi":56.7},{"n":12,"rsi":50.6},{"n":13,"rsi":48.2},{"n":15,"rsi":54.6},{"n":17,"rsi":62.7},{"n":18,"rsi":63.5},{"n":19,"rsi":57},{"n":20,"rsi":57.9},{"n":21,"rsi":63.5},{"n":23,"rsi":55.5},{"n":25,"rsi":64.3},{"n":27,"rsi":51.4},{"n":28,"rsi":55.5},{"n":30,"rsi":51.4},{"n":31,"rsi":55.5},{"n":32,"rsi":52.2},{"n":34,"rsi":56.7},{"n":36,"rsi":52.6},{"n":39,"rsi":51},{"n":40,"rsi":38.5},{"n":41,"rsi":40.5},{"n":42,"rsi":42.5},{"n":44,"rsi":30.4},{"n":45,"rsi":39.3},{"n":47,"rsi":36.5},{"n":48,"rsi":42.5},{"n":49,"rsi":35.7},{"n":50,"rsi":46.6},{"n":52,"rsi":46.6},{"n":53,"rsi":45.4},{"n":56,"rsi":32},{"n":58,"rsi":38.5},{"n":59,"rsi":28.4},{"n":61,"rsi":31.2},{"n":63,"rsi":45.8},{"n":65,"rsi":45.4},{"n":66,"rsi":48.2},{"n":67,"rsi":49.4},{"n":68,"rsi":50.6},{"n":69,"rsi":46.6},{"n":71,"rsi":44.5},{"n":73,"rsi":40.9},{"n":75,"rsi":41.3},{"n":76,"rsi":58.7},{"n":78,"rsi":68.8},{"n":79,"rsi":68.8},{"n":80,"rsi":59.5},{"n":81,"rsi":67.6},{"n":83,"rsi":55.5},{"n":85,"rsi":59.5},{"n":86,"rsi":62.7},{"n":87,"rsi":59.5},{"n":88,"rsi":70.8},{"n":90,"rsi":61.9},{"n":92,"rsi":61.9},{"n":94,"rsi":68.8},{"n":95,"rsi":68.8},{"n":98,"rsi":57.9},{"n":100,"rsi":61.1},{"n":102,"rsi":53.8},{"n":103,"rsi":55.5},{"n":106,"rsi":48.6},{"n":108,"rsi":56.7},{"n":109,"rsi":59.5},{"n":111,"rsi":52.6},{"n":113,"rsi":50.6},{"n":114,"rsi":52.2},{"n":115,"rsi":50.6},{"n":117,"rsi":52.6},{"n":118,"rsi":61.9},{"n":119,"rsi":54.6},{"n":120,"rsi":52.6},{"n":123,"rsi":75.7},{"n":126,"rsi":79.7},{"n":127,"rsi":59.5},{"n":130,"rsi":62.7},{"n":132,"rsi":59.5},{"n":134,"rsi":67.6},{"n":136,"rsi":72.8},{"n":138,"rsi":76.9},{"n":140,"rsi":80.9},{"n":142,"rsi":63.5},{"n":143,"rsi":68.8},{"n":144,"rsi":68.8},{"n":145,"rsi":58.7},{"n":146,"rsi":62.7},{"n":149,"rsi":50.6},{"n":150,"rsi":54.6},{"n":153,"rsi":49.8},{"n":155,"rsi":49.8},{"n":156,"rsi":48.6},{"n":158,"rsi":56.3},{"n":162,"rsi":56.7},{"n":163,"rsi":50.6},{"n":164,"rsi":50.6},{"n":165,"rsi":43.3},{"n":167,"rsi":47.4},{"n":168,"rsi":38.5},{"n":169,"rsi":37.7},{"n":171,"rsi":30.4},{"n":172,"rsi":38.5},{"n":173,"rsi":45.8},{"n":174,"rsi":49},{"n":176,"rsi":42.5},{"n":178,"rsi":39.7},{"n":180,"rsi":45.4},{"n":182,"rsi":45.4},{"n":184,"rsi":55.5},{"n":185,"rsi":49.8},{"n":187,"rsi":56.3},{"n":190,"rsi":53.8},{"n":193,"rsi":51.8},{"n":195,"rsi":43.3},{"n":197,"rsi":51.4},{"n":200,"rsi":63.9},{"n":202,"rsi":57.9},{"n":203,"rsi":56.7},{"n":205,"rsi":47.8},{"n":206,"rsi":53},{"n":209,"rsi":53.8},{"n":210,"rsi":52.6},{"n":212,"rsi":63.5},{"n":214,"rsi":67.6},{"n":216,"rsi":61.9},{"n":220,"rsi":55.9},{"n":222,"rsi":56.3},{"n":223,"rsi":70.8},{"n":225,"rsi":61.9},{"n":227,"rsi":71.6},{"n":228,"rsi":61.9},{"n":229,"rsi":68.8},{"n":230,"rsi":53.8},{"n":231,"rsi":52.6},{"n":233,"rsi":44.1},{"n":234,"rsi":44.5},{"n":236,"rsi":55.5},{"n":241,"rsi":52.6},{"n":242,"rsi":48.2},{"n":244,"rsi":50.6},{"n":246,"rsi":49.8},{"n":248,"rsi":53.8},{"n":249,"rsi":48.6},{"n":251,"rsi":55.5},{"n":253,"rsi":52.6},{"n":255,"rsi":54.6},{"n":258,"rsi":41.3},{"n":259,"rsi":44.5},{"n":261,"rsi":41.7},{"n":262,"rsi":47.4},{"n":266,"rsi":37.7},{"n":267,"rsi":37.3},{"n":269,"rsi":33.2},{"n":270,"rsi":42.5},{"n":273,"rsi":46.6},{"n":276,"rsi":40.5},{"n":277,"rsi":38.5},{"n":278,"rsi":52.6},{"n":280,"rsi":45.8},{"n":282,"rsi":44.5},{"n":283,"rsi":41.7},{"n":285,"rsi":47.4},{"n":286,"rsi":43.3},{"n":289,"rsi":43.3},{"n":290,"rsi":39.7},{"n":291,"rsi":42.5},{"n":292,"rsi":35.3},{"n":295,"rsi":33.7},{"n":296,"rsi":48.6},{"n":297,"rsi":45.8},{"n":298,"rsi":60.7},{"n":299,"rsi":62.7},{"n":300,"rsi":55.5},{"n":301,"rsi":58.7},{"n":302,"rsi":53.4},{"n":304,"rsi":55.5},{"n":305,"rsi":51.8},{"n":307,"rsi":58.7},{"n":308,"rsi":52.6},{"n":309,"rsi":56.7},{"n":312,"rsi":54.6},{"n":313,"rsi":49.8}],
"macd":[{"n":-5,"v":0.00005},{"n":0,"v":0},{"n":8,"v":0.00001},{"n":16,"v":0.00006},{"n":25,"v":0.0001},{"n":39,"v":0.00005},{"n":42,"v":-0.00002},{"n":48,"v":-0.00015},{"n":55,"v":-0.0001},{"n":61,"v":-0.0003},{"n":68,"v":-0.00014},{"n":75,"v":-0.0001},{"n":81,"v":0.0002},{"n":87,"v":0.00025},{"n":89,"v":0.00039},{"n":95,"v":0.00048},{"n":100,"v":0.0004},{"n":106,"v":0.00018},{"n":115,"v":0.0001},{"n":121,"v":0.00012},{"n":126,"v":0.00064},{"n":129,"v":0.00056},{"n":134,"v":0.00052},{"n":141,"v":0.0009},{"n":144,"v":0.00088},{"n":149,"v":0.0006},{"n":157,"v":0.00018},{"n":163,"v":0.00022},{"n":167,"v":-0.00005},{"n":171,"v":-0.00045},{"n":173,"v":-0.0004},{"n":180,"v":-0.0004},{"n":184,"v":-0.00018},{"n":189,"v":0.00005},{"n":194,"v":0.00008},{"n":197,"v":0},{"n":200,"v":0.00022},{"n":204,"v":0.00023},{"n":210,"v":0.00017},{"n":215,"v":0.00042},{"n":218,"v":0.00042},{"n":221,"v":0.00035},{"n":226,"v":0.0005},{"n":229,"v":0.00065},{"n":232,"v":0.00048},{"n":235,"v":0.00012},{"n":238,"v":0.00022},{"n":241,"v":0.00022},{"n":244,"v":0.0001},{"n":251,"v":0.00008},{"n":257,"v":0.00005},{"n":261,"v":-0.0001},{"n":264,"v":-0.00015},{"n":269,"v":-0.00033},{"n":274,"v":-0.00025},{"n":279,"v":-0.00017},{"n":288,"v":-0.00017},{"n":295,"v":-0.0003},{"n":297,"v":-0.00023},{"n":300,"v":0},{"n":305,"v":0.0001},{"n":311,"v":0.00018},{"n":313,"v":0.00014}],
"signal":[{"n":-5,"v":-0.00003},{"n":8,"v":0.00001},{"n":25,"v":0.00008},{"n":39,"v":0.00006},{"n":48,"v":-0.0001},{"n":55,"v":-0.00011},{"n":63,"v":-0.00023},{"n":75,"v":-0.00012},{"n":85,"v":0.00015},{"n":96,"v":0.00042},{"n":101,"v":0.00041},{"n":108,"v":0.00025},{"n":117,"v":0.00012},{"n":121,"v":0.00013},{"n":128,"v":0.00045},{"n":136,"v":0.00054},{"n":146,"v":0.00078},{"n":151,"v":0.0006},{"n":157,"v":0.0003},{"n":164,"v":0.00022},{"n":170,"v":-0.0001},{"n":173,"v":-0.00025},{"n":181,"v":-0.00035},{"n":188,"v":-0.00015},{"n":193,"v":-0.00002},{"n":198,"v":0},{"n":203,"v":0.00016},{"n":210,"v":0.00016},{"n":218,"v":0.00036},{"n":221,"v":0.00035},{"n":231,"v":0.00053},{"n":236,"v":0.0003},{"n":244,"v":0.00015},{"n":255,"v":0.0001},{"n":262,"v":-0.00007},{"n":270,"v":-0.00025},{"n":277,"v":-0.00025},{"n":287,"v":-0.00018},{"n":296,"v":-0.00023},{"n":302,"v":-0.0001},{"n":307,"v":0.00008},{"n":313,"v":0.00014}],
"ma50":[{"n":124,"p":0.01944},{"n":127,"p":0.01984},{"n":131,"p":0.0204},{"n":135,"p":0.02117},{"n":139,"p":0.02205},{"n":143,"p":0.02278},{"n":148,"p":0.02372},{"n":153,"p":0.0245},{"n":158,"p":0.02527},{"n":162,"p":0.02615},{"n":166,"p":0.02675},{"n":170,"p":0.02698},{"n":173,"p":0.02693},{"n":177,"p":0.02683},{"n":184,"p":0.0268},{"n":189,"p":0.02647},{"n":194,"p":0.02594},{"n":198,"p":0.02573},{"n":204,"p":0.02573},{"n":206,"p":0.02566},{"n":211,"p":0.02556},{"n":216,"p":0.02584},{"n":220,"p":0.02637},{"n":225,"p":0.02702},{"n":230,"p":0.02803},{"n":234,"p":0.02843},{"n":240,"p":0.02911},{"n":248,"p":0.02988},{"n":253,"p":0.03027},{"n":259,"p":0.03065},{"n":262,"p":0.03062},{"n":270,"p":0.03027},{"n":276,"p":0.02975},{"n":283,"p":0.02931},{"n":289,"p":0.02883},{"n":296,"p":0.02814},{"n":303,"p":0.02773},{"n":313,"p":0.02766}],
"ma100":[{"n":144,"p":0.01944},{"n":148,"p":0.02015},{"n":153,"p":0.02075},{"n":158,"p":0.02134},{"n":163,"p":0.02214},{"n":167,"p":0.02255},{"n":173,"p":0.02297},{"n":177,"p":0.02343},{"n":183,"p":0.02376},{"n":189,"p":0.02431},{"n":196,"p":0.02462},{"n":201,"p":0.02501},{"n":206,"p":0.02535},{"n":211,"p":0.02573},{"n":216,"p":0.02633},{"n":221,"p":0.0268},{"n":225,"p":0.02702},{"n":230,"p":0.02751},{"n":235,"p":0.02769},{"n":241,"p":0.02776},{"n":248,"p":0.02788},{"n":255,"p":0.02809},{"n":264,"p":0.02814},{"n":269,"p":0.02838},{"n":275,"p":0.02855},{"n":281,"p":0.02883},{"n":289,"p":0.02888},{"n":296,"p":0.02898},{"n":306,"p":0.02911},{"n":313,"p":0.02911}],
"ma200":[{"n":169,"p":0.01944},{"n":177,"p":0.01976},{"n":186,"p":0.02015},{"n":194,"p":0.02049},{"n":201,"p":0.02083},{"n":206,"p":0.02108},{"n":213,"p":0.02161},{"n":221,"p":0.02201},{"n":228,"p":0.02259},{"n":235,"p":0.02305},{"n":243,"p":0.02372},{"n":251,"p":0.02431},{"n":259,"p":0.02501},{"n":267,"p":0.02552},{"n":275,"p":0.02599},{"n":283,"p":0.02637},{"n":291,"p":0.02663},{"n":296,"p":0.0268},{"n":304,"p":0.02725},{"n":313,"p":0.02758}],
"channel":[{"line":"upper","n":209.3,"p":0.03671},{"line":"upper","n":328,"p":0.02926},{"line":"lower","n":209.3,"p":0.02919},{"line":"lower","n":328,"p":0.02325}],
"midline":[{"n":209.3,"p":0.03273},{"n":328.6,"p":0.02602}]
},
"vconcat":[
{"width":1181,"height":44,"data":{"name":"single"},
"layer":[
{"mark":{"type":"text","text":"CryptoFXStreet","fontWeight":"bold"},"encoding":{"x":{"datum":-5.14,"type":"quantitative","scale":{"domain":[-5.29,349.6],"nice":false,"zero":false,"padding":0},"axis":null},"y":{"datum":"first","type":"ordinal","scale":{"domain":["first","second"],"range":[13,30],"padding":0},"axis":null}}},
{"mark":{"type":"text","text":"published on TradingView.com, February 04, 2021 11:11:49 UTC","fontSize":13.2},"encoding":{"x":{"datum":22.8,"type":"quantitative","axis":null},"y":{"datum":"first","type":"ordinal","axis":null}}},
{"mark":{"type":"text","text":"BINANCE:VETUSD, 240","fontWeight":"bold"},"encoding":{"x":{"datum":-5.14,"type":"quantitative","axis":null},"y":{"datum":"second","type":"ordinal","axis":null}}},
{"mark":{"type":"text","text":"0.02818988"},"encoding":{"x":{"datum":35.6,"type":"quantitative","axis":null},"y":{"datum":"second","type":"ordinal","axis":null}}},
{"mark":{"type":"text","text":"▼","color":"#ef5350"},"encoding":{"x":{"datum":56.9,"type":"quantitative","axis":null},"y":{"datum":"second","type":"ordinal","axis":null}}},
{"mark":{"type":"text","text":"−0.00083267 (−2.87%)"},"encoding":{"x":{"datum":61,"type":"quantitative","axis":null},"y":{"datum":"second","type":"ordinal","axis":null}}},
{"mark":{"type":"text","text":"O:","fontWeight":"bold"},"encoding":{"x":{"datum":100.3,"type":"quantitative","axis":null},"y":{"datum":"second","type":"ordinal","axis":null}}},
{"mark":{"type":"text","text":"0.02879825","color":"#ef5350"},"encoding":{"x":{"datum":104.3,"type":"quantitative","axis":null},"y":{"datum":"second","type":"ordinal","axis":null}}},
{"mark":{"type":"text","text":"H:","fontWeight":"bold"},"encoding":{"x":{"datum":126,"type":"quantitative","axis":null},"y":{"datum":"second","type":"ordinal","axis":null}}},
{"mark":{"type":"text","text":"0.02944888","color":"#ef5350"},"encoding":{"x":{"datum":129.9,"type":"quantitative","axis":null},"y":{"datum":"second","type":"ordinal","axis":null}}},
{"mark":{"type":"text","text":"L:","fontWeight":"bold"},"encoding":{"x":{"datum":151.6,"type":"quantitative","axis":null},"y":{"datum":"second","type":"ordinal","axis":null}}},
{"mark":{"type":"text","text":"0.02689217","color":"#ef5350"},"encoding":{"x":{"datum":154.9,"type":"quantitative","axis":null},"y":{"datum":"second","type":"ordinal","axis":null}}},
{"mark":{"type":"text","text":"C:","fontWeight":"bold"},"encoding":{"x":{"datum":176,"type":"quantitative","axis":null},"y":{"datum":"second","type":"ordinal","axis":null}}},
{"mark":{"type":"text","text":"0.02818988","color":"#ef5350"},"encoding":{"x":{"datum":179.2,"type":"quantitative","axis":null},"y":{"datum":"second","type":"ordinal","axis":null}}}
]},
{"width":1181,"height":278,
"resolve":{"scale":{"y":"independent"}},
"layer":[
{"data":{"name":"bars"},"mark":{"type":"bar","orient":"vertical","size":2.3,"opacity":0.5},"encoding":{"x":{"field":"n","type":"quantitative","scale":{"domain":[-5.29,349.6],"nice":false,"zero":false,"padding":0},"axis":null},"y":{"field":"vol","type":"quantitative","stack":null,"scale":{"domain":[0,278],"nice":false},"axis":null},"color":{"field":"dir","type":"nominal","scale":{"domain":["u","d"],"range":["#26a69a","#ef5350"]},"legend":null}}},
{"layer":[
{"data":{"name":"bars"},"mark":{"type":"rule","clip":true,"strokeWidth":1},"encoding":{"x":{"field":"n","type":"quantitative","axis":null},"y":{"field":"l","type":"quantitative","scale":{"type":"log","domain":[0.01942,0.03826],"nice":false},"axis":{"orient":"right","values":[0.021,0.023,0.025,0.027,0.031,0.035],"format":".8f","title":null}},"y2":{"field":"h"},"color":{"field":"dir","type":"nominal","scale":{"domain":["u","d"],"range":["#26a69a","#ef5350"]},"legend":null}}},
{"data":{"name":"bars"},"mark":{"type":"bar","orient":"vertical","clip":true,"size":2.8},"encoding":{"x":{"field":"n","type":"quantitative","axis":null},"y":{"field":"o","type":"quantitative"},"y2":{"field":"c"},"color":{"field":"dir","type":"nominal","legend":null}}},
{"data":{"name":"ma200"},"mark":{"type":"line","clip":true,"color":"#d03a3a","strokeWidth":2,"interpolate":"monotone"},"encoding":{"x":{"field":"n","type":"quantitative","axis":null},"y":{"field":"p","type":"quantitative"}}},
{"data":{"name":"ma50"},"mark":{"type":"line","clip":true,"color":"#fbc02d","strokeWidth":2,"interpolate":"monotone"},"encoding":{"x":{"field":"n","type":"quantitative","axis":null},"y":{"field":"p","type":"quantitative"}}},
{"data":{"name":"ma100"},"mark":{"type":"line","clip":true,"color":"#2196f3","strokeWidth":2,"interpolate":"monotone"},"encoding":{"x":{"field":"n","type":"quantitative","axis":null},"y":{"field":"p","type":"quantitative"}}},
{"data":{"name":"channel"},"mark":{"type":"line","color":"black","strokeWidth":4},"encoding":{"x":{"field":"n","type":"quantitative","axis":null},"y":{"field":"p","type":"quantitative"},"detail":{"field":"line"}}},
{"data":{"name":"midline"},"mark":{"type":"line","color":"#131722","strokeWidth":1,"strokeDash":[6,6]},"encoding":{"x":{"field":"n","type":"quantitative","axis":null},"y":{"field":"p","type":"quantitative"}}},
{"data":{"name":"single"},"mark":{"type":"rule","color":"#ef5350","strokeDash":[1,3]},"encoding":{"x":{"datum":-5.29,"type":"quantitative","axis":null},"x2":{"datum":349.6},"y":{"datum":0.02819,"type":"quantitative"}}},
{"data":{"name":"single"},"mark":{"type":"rect","fill":null,"stroke":"#e0e3eb"},"encoding":{"x":{"datum":-5.29,"type":"quantitative","axis":null},"x2":{"datum":373.6},"y":{"datum":0.03826,"type":"quantitative"},"y2":{"datum":0.01942}}},
{"data":{"name":"single"},"mark":{"type":"rect","color":"#ef5350"},"encoding":{"x":{"datum":349.6,"type":"quantitative","axis":null},"x2":{"datum":373.6},"y":{"datum":0.02883,"type":"quantitative"},"y2":{"datum":0.02759}}},
{"data":{"name":"single"},"mark":{"type":"rect","color":"#ef5350"},"encoding":{"x":{"datum":360.7,"type":"quantitative","axis":null},"x2":{"datum":373.6},"y":{"datum":0.02746,"type":"quantitative"},"y2":{"datum":0.02627}}},
{"data":{"name":"single"},"mark":{"type":"rect","fill":"white","stroke":"#e0e3eb","cornerRadius":3},"encoding":{"x":{"datum":357.1,"type":"quantitative","axis":null},"x2":{"datum":366.4},"y":{"datum":0.0376,"type":"quantitative"},"y2":{"datum":0.03603}}},
{"data":{"name":"single"},"mark":{"type":"text","text":"USD","align":"center","fontSize":11.5},"encoding":{"x":{"datum":361.7,"type":"quantitative","axis":null},"y":{"datum":0.0368,"type":"quantitative"}}},
{"data":{"name":"single"},"mark":{"type":"text","text":"0.02818988","color":"white","fontWeight":"bold","fontSize":12},"encoding":{"x":{"datum":351.9,"type":"quantitative","axis":null},"y":{"datum":0.02819,"type":"quantitative"}}},
{"data":{"name":"single"},"mark":{"type":"text","text":"48:13","color":"white","fontWeight":"bold","fontSize":12,"align":"center"},"encoding":{"x":{"datum":367.1,"type":"quantitative","axis":null},"y":{"datum":0.02685,"type":"quantitative"}}},
{"data":{"name":"single"},"mark":{"type":"text","text":"VeChain / US Dollar (calculated by TradingView), 4h, BINANCE","fontWeight":"bold"},"encoding":{"x":{"datum":-2.5,"type":"quantitative","axis":null},"y":{"datum":0.03671,"type":"quantitative"}}},
{"data":{"name":"single"},"mark":{"type":"text","text":"3MA BB"},"encoding":{"x":{"datum":-2.5,"type":"quantitative","axis":null},"y":{"datum":0.03524,"type":"quantitative"}}},
{"data":{"name":"single"},"mark":{"type":"text","text":"Vol"},"encoding":{"x":{"datum":-2.5,"type":"quantitative","axis":null},"y":{"datum":0.03384,"type":"quantitative"}}}
]}
]},
{"width":1181,"height":55,
"layer":[
{"data":{"name":"single"},"mark":{"type":"rect","color":"#f4e6fb"},"encoding":{"x":{"datum":-5.29,"type":"quantitative","scale":{"domain":[-5.29,349.6],"nice":false,"zero":false,"padding":0},"axis":null},"x2":{"datum":349.6},"y":{"datum":70,"type":"quantitative","scale":{"domain":[21.9,88.5],"nice":false,"zero":false},"axis":{"orient":"right","values":[40,80],"format":".2f","title":null}},"y2":{"datum":30}}},
{"data":{"name":"single"},"mark":{"type":"rule","color":"#b9a7c2","strokeDash":[5,4]},"encoding":{"x":{"datum":-5.29,"type":"quantitative","axis":null},"x2":{"datum":349.6},"y":{"datum":70,"type":"quantitative"}}},
{"data":{"name":"single"},"mark":{"type":"rule","color":"#b9a7c2","strokeDash":[5,4]},"encoding":{"x":{"datum":-5.29,"type":"quantitative","axis":null},"x2":{"datum":349.6},"y":{"datum":30,"type":"quantitative"}}},
{"data":{"name":"rsi"},"mark":{"type":"line","color":"#9c27b0","strokeWidth":1,"clip":true},"encoding":{"x":{"field":"n","type":"quantitative","axis":null},"y":{"field":"rsi","type":"quantitative"}}},
{"data":{"name":"single"},"mark":{"type":"rect","fill":null,"stroke":"#e0e3eb"},"encoding":{"x":{"datum":-5.29,"type":"quantitative","axis":null},"x2":{"datum":373.6},"y":{"datum":88.5,"type":"quantitative"},"y2":{"datum":21.9}}},
{"data":{"name":"single"},"mark":{"type":"text","text":"RSI"},"encoding":{"x":{"datum":-2.5,"type":"quantitative","axis":null},"y":{"datum":67.5,"type":"quantitative"}}}
]},
{"width":1181,"height":56,
"layer":[
{"data":{"name":"bars"},"transform":[{"window":[{"op":"lag","field":"hist","as":"prev"}],"sort":[{"field":"n"}]},{"calculate":"datum.hist>=0?(datum.hist>=datum.prev?'rising':'fading'):(datum.hist<datum.prev?'falling':'recovering')","as":"state"}],"mark":{"type":"bar","orient":"vertical","size":2.3},"encoding":{"x":{"field":"n","type":"quantitative","scale":{"domain":[-5.29,349.6],"nice":false,"zero":false,"padding":0},"axis":{"values":[0,42,72,108,138,168,210,252,294,336],"labelExpr":"({'0':'14','42':'21','72':'26','108':'2021','138':'6','168':'11','210':'18','252':'25','294':'Feb','336':'8'})[datum.value]","labelFontWeight":{"condition":{"test":"datum.value==108","value":"bold"},"value":"normal"},"domain":false,"title":null,"labelPadding":3}},"y":{"field":"hist","type":"quantitative","stack":null,"scale":{"domain":[-0.0006,0.00108],"nice":false,"zero":false},"axis":{"orient":"right","values":[0],"format":".8f","title":null}},"color":{"field":"state","type":"nominal","scale":{"domain":["rising","fading","falling","recovering"],"range":["#26a69a","#b2dfdb","#ef5350","#ffcdd2"]},"legend":null}}},
{"data":{"name":"macd"},"mark":{"type":"line","color":"#2196f3","strokeWidth":1.2,"interpolate":"monotone"},"encoding":{"x":{"field":"n","type":"quantitative"},"y":{"field":"v","type":"quantitative"}}},
{"data":{"name":"signal"},"mark":{"type":"line","color":"#f57c1f","strokeWidth":1.5,"interpolate":"monotone"},"encoding":{"x":{"field":"n","type":"quantitative"},"y":{"field":"v","type":"quantitative"}}},
{"data":{"name":"single"},"mark":{"type":"rect","fill":null,"stroke":"#e0e3eb"},"encoding":{"x":{"datum":-5.29,"type":"quantitative"},"x2":{"datum":373.6},"y":{"datum":0.00108,"type":"quantitative"},"y2":{"datum":-0.0006}}},
{"data":{"name":"single"},"mark":{"type":"text","text":"MACD"},"encoding":{"x":{"datum":-2.5,"type":"quantitative"},"y":{"datum":0.00055,"type":"quantitative"}}}
]},
{"width":1181,"height":29,"data":{"name":"single"},
"layer":[
{"mark":{"type":"rect","fill":null,"stroke":"#e0e3eb"},"encoding":{"x":{"datum":-5.29,"type":"quantitative","scale":{"domain":[-5.29,349.6],"nice":false,"zero":false},"axis":null},"x2":{"datum":373.6},"y":{"datum":1,"type":"quantitative","scale":{"domain":[0,1]},"axis":null},"y2":{"datum":0}}},
{"mark":{"type":"rule","color":"#e0e3eb"},"encoding":{"x":{"datum":349.6,"type":"quantitative","axis":null},"y":{"datum":1,"type":"quantitative","axis":null},"y2":{"datum":0}}}
]},
{"width":1181,"height":37,"data":{"name":"single"},
"layer":[
{"mark":{"type":"point","filled":true,"color":"#2196f3","opacity":1,"size":640,"shape":"M-1,0.55 C-1,0.2 -0.8,0.05 -0.62,0.05 C-0.62,-0.3 -0.35,-0.5 -0.1,-0.45 C0,-0.65 0.45,-0.65 0.52,-0.25 C0.85,-0.25 1,0 1,0.25 C1,0.5 0.8,0.6 0.6,0.6 L-0.7,0.6 C-0.85,0.6 -1,0.6 -1,0.55 Z"},"encoding":{"x":{"datum":-1.4,"type":"quantitative","scale":{"domain":[-5.29,349.6],"nice":false,"zero":false},"axis":null},"y":{"datum":0.5,"type":"quantitative","scale":{"domain":[0,1]},"axis":null}}},
{"mark":{"type":"point","filled":false,"stroke":"white","strokeWidth":1.6,"opacity":1,"size":640,"shape":"M-0.75,0.4 L-0.25,-0.1 L0.15,0.25 L0.65,-0.25"},"encoding":{"x":{"datum":-1.4,"type":"quantitative","axis":null},"y":{"datum":0.5,"type":"quantitative","axis":null}}},
{"mark":{"type":"text","text":"TradingView","fontSize":14.5},"encoding":{"x":{"datum":3.2,"type":"quantitative","axis":null},"y":{"datum":0.5,"type":"quantitative","axis":null}}}
]}
]}
